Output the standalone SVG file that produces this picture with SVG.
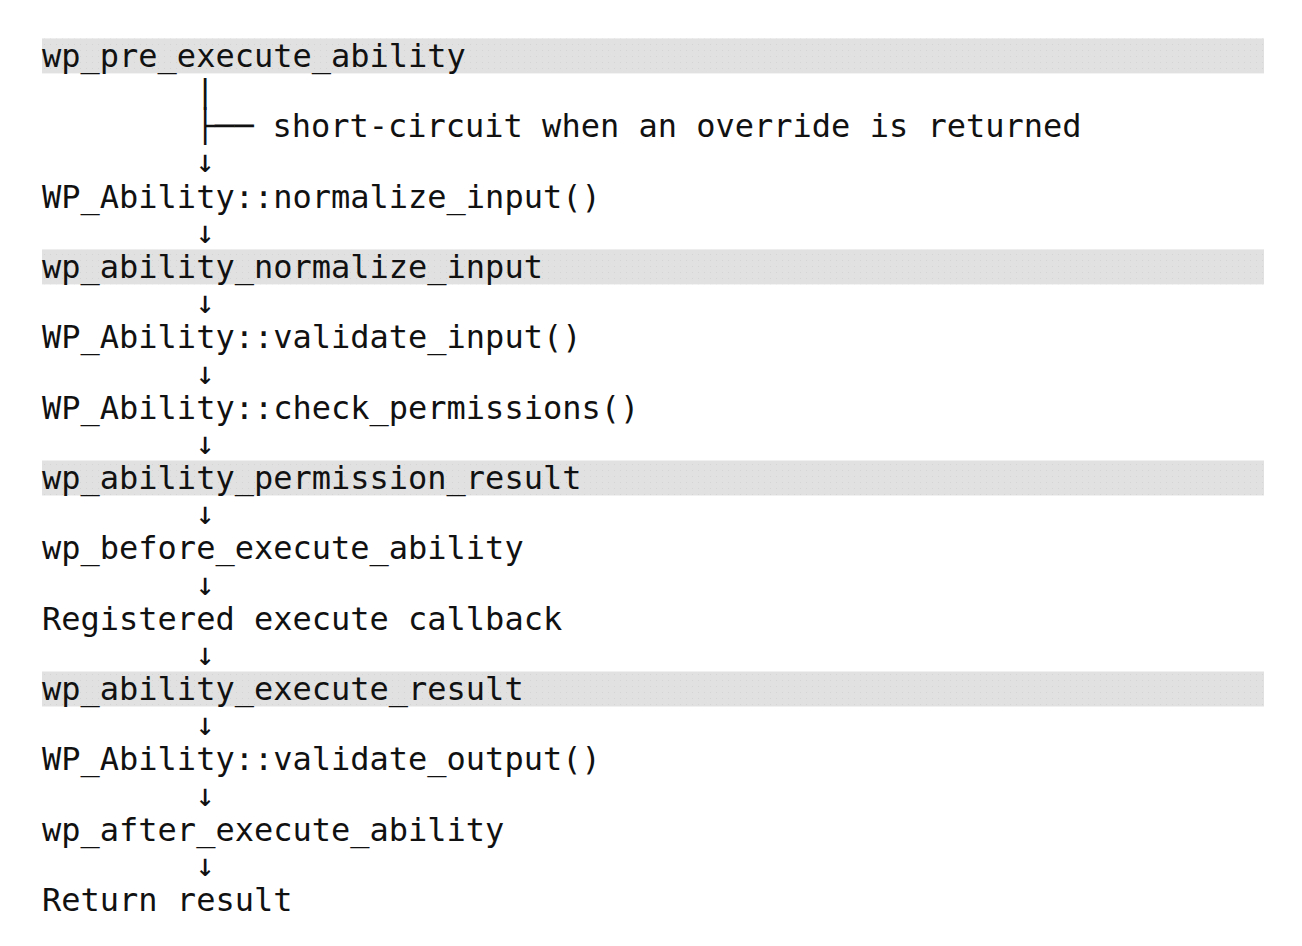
<svg xmlns="http://www.w3.org/2000/svg" width="1302" height="946" viewBox="0 0 1302 946">
<style>
text{font-family:"DejaVu Sans Mono","Liberation Mono",monospace;font-size:32px;fill:#111;}
.band{fill:url(#dots);}
</style>
<defs>
<pattern id="dots" width="6" height="6" patternUnits="userSpaceOnUse">
<rect width="6" height="6" fill="#e1e1e1"/>
<rect x="2" y="2" width="1" height="1" fill="#d5d5d5"/>
</pattern>
</defs>
<rect width="1302" height="946" fill="#fff"/>
<g id="n1"><rect class="band" x="42" y="38.4" width="1222" height="35"/><text x="42" y="66.9">wp_pre_execute_ability</text></g>
<g id="n2"><text x="272.4" y="137.2">short-circuit when an override is returned</text></g>
<g id="n3"><text x="42" y="207.6">WP_Ability::normalize_input()</text></g>
<g id="n4"><rect class="band" x="42" y="249.4" width="1222" height="35"/><text x="42" y="277.9">wp_ability_normalize_input</text></g>
<g id="n5"><text x="42" y="348.3">WP_Ability::validate_input()</text></g>
<g id="n6"><text x="42" y="418.6">WP_Ability::check_permissions()</text></g>
<g id="n7"><rect class="band" x="42" y="460.5" width="1222" height="35"/><text x="42" y="489.0">wp_ability_permission_result</text></g>
<g id="n8"><text x="42" y="559.3">wp_before_execute_ability</text></g>
<g id="n9"><text x="42" y="629.6">Registered execute callback</text></g>
<g id="n10"><rect class="band" x="42" y="671.5" width="1222" height="35"/><text x="42" y="700.0">wp_ability_execute_result</text></g>
<g id="n11"><text x="42" y="770.4">WP_Ability::validate_output()</text></g>
<g id="n12"><text x="42" y="840.7">wp_after_execute_ability</text></g>
<g id="n13"><text x="42" y="911.0">Return result</text></g>
<g id="connectors">
<text x="195.6" y="102.1">|</text>
<text x="195.6" y="137.2">├──</text>
<text x="195.6" y="172.4">↓</text>
<text x="195.6" y="242.8">↓</text>
<text x="195.6" y="313.1">↓</text>
<text x="195.6" y="383.5">↓</text>
<text x="195.6" y="453.8">↓</text>
<text x="195.6" y="524.2">↓</text>
<text x="195.6" y="594.5">↓</text>
<text x="195.6" y="664.9">↓</text>
<text x="195.6" y="735.2">↓</text>
<text x="195.6" y="805.6">↓</text>
<text x="195.6" y="875.9">↓</text>
</g>
</svg>
